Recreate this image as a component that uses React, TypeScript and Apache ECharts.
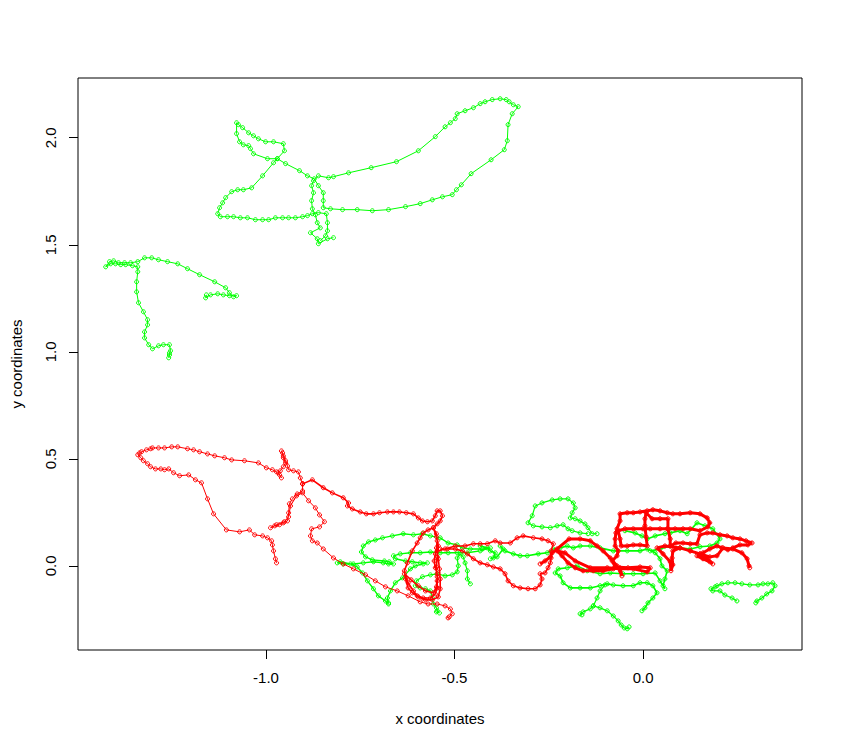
import React, { useEffect, useRef } from "react";
import * as echarts from "echarts";

const GREEN = "#00ff00";
const RED = "#ff0000";

const xTicks = [-1.0, -0.5, 0.0];
const yTicks = [0.0, 0.5, 1.0, 1.5, 2.0];
const xTitle = "x coordinates";
const yTitle = "y coordinates";

// green track, upper loop
const greenTop: number[][] = [
  [-0.821,1.533],[-0.837,1.528],[-0.861,1.505],[-0.864,1.528],[-0.882,1.556],[-0.856,1.579],[-0.864,1.603],[-0.869,1.640],[-0.877,1.668],[-0.879,1.706],[-0.874,1.743],[-0.879,1.776],[-0.874,1.799],[-0.861,1.822],[-0.834,1.813],[-0.821,1.818],[-0.781,1.836],[-0.721,1.860],[-0.654,1.888],[-0.596,1.939],[-0.551,2.005],[-0.525,2.051],[-0.511,2.070],[-0.498,2.089],[-0.493,2.112],[-0.472,2.126],[-0.450,2.140],[-0.432,2.159],[-0.419,2.168],[-0.400,2.178],[-0.379,2.182],[-0.363,2.178],[-0.355,2.168],[-0.344,2.154],[-0.331,2.145],[-0.347,2.112],[-0.358,2.061],[-0.360,1.986],[-0.368,1.944],[-0.403,1.897],[-0.456,1.832],[-0.482,1.780],[-0.495,1.757],[-0.506,1.734],[-0.532,1.724],[-0.559,1.710],[-0.591,1.692],[-0.630,1.678],[-0.675,1.664],[-0.718,1.659],[-0.758,1.664],[-0.797,1.664],[-0.829,1.668],[-0.848,1.673],[-0.848,1.706],[-0.848,1.743],[-0.861,1.776],[-0.872,1.808],[-0.890,1.822],[-0.911,1.846],[-0.948,1.879],[-0.970,1.902],[-0.996,1.902],[-1.033,1.925],[-1.041,1.949],[-1.046,1.963],[-1.060,1.967],[-1.070,1.981],[-1.078,2.019],[-1.078,2.070],[-1.073,2.061],[-1.062,2.047],[-1.046,2.023],[-1.033,2.009],[-1.020,1.995],[-1.001,1.981],[-0.980,1.981],[-0.954,1.972],[-0.951,1.939],[-0.970,1.902],[-0.980,1.883],[-1.009,1.822],[-1.038,1.766],[-1.060,1.757],[-1.075,1.757],[-1.091,1.748],[-1.107,1.720],[-1.115,1.696],[-1.123,1.673],[-1.128,1.645],[-1.121,1.631],[-1.102,1.631],[-1.086,1.631],[-1.068,1.626],[-1.049,1.626],[-1.028,1.617],[-1.009,1.617],[-0.993,1.617],[-0.975,1.626],[-0.956,1.626],[-0.940,1.626],[-0.922,1.626],[-0.903,1.631],[-0.890,1.636],[-0.877,1.645],[-0.861,1.650],[-0.840,1.645],[-0.837,1.603],[-0.837,1.565],[-0.842,1.542],[-0.856,1.519]
];

// green track, left piece
const greenLeft: number[][] = [
  [-1.258,0.972],[-1.256,0.985],[-1.256,0.995],[-1.253,1.005],[-1.256,1.033],[-1.272,1.033],[-1.285,1.028],[-1.301,1.014],[-1.311,1.033],[-1.322,1.065],[-1.322,1.093],[-1.314,1.126],[-1.314,1.150],[-1.325,1.187],[-1.338,1.229],[-1.343,1.280],[-1.343,1.327],[-1.340,1.374],[-1.340,1.397],[-1.354,1.402],[-1.372,1.407],[-1.385,1.407],[-1.399,1.411],[-1.412,1.411],[-1.425,1.397],[-1.415,1.421],[-1.404,1.425],[-1.391,1.416],[-1.375,1.416],[-1.359,1.416],[-1.340,1.421],[-1.322,1.439],[-1.303,1.439],[-1.285,1.430],[-1.261,1.421],[-1.234,1.411],[-1.208,1.388],[-1.176,1.360],[-1.136,1.327],[-1.107,1.299],[-1.097,1.276],[-1.086,1.257],[-1.078,1.262],[-1.097,1.262],[-1.113,1.266],[-1.128,1.271],[-1.147,1.266],[-1.160,1.252],[-1.158,1.266]
];

// green track, lower-left ellipse
const greenEllipse: number[][] = [
  [-0.675,-0.178],[-0.683,-0.164],[-0.702,-0.140],[-0.715,-0.107],[-0.731,-0.070],[-0.744,-0.033],[-0.758,-0.005],[-0.776,0.009],[-0.803,0.019],[-0.811,0.014],[-0.795,0.009],[-0.768,0.009],[-0.742,0.014],[-0.715,0.019],[-0.689,0.014],[-0.675,0.009],[-0.662,0.009],[-0.673,0.019],[-0.686,0.023],[-0.718,0.028],[-0.736,0.042],[-0.747,0.065],[-0.742,0.093],[-0.728,0.112],[-0.710,0.121],[-0.691,0.131],[-0.665,0.140],[-0.636,0.150],[-0.609,0.145],[-0.585,0.150],[-0.564,0.140],[-0.538,0.131],[-0.517,0.107],[-0.493,0.098],[-0.479,0.084],[-0.458,0.079],[-0.426,0.079],[-0.405,0.084],[-0.432,0.070],[-0.466,0.061],[-0.493,0.061],[-0.517,0.061],[-0.538,0.061],[-0.564,0.065],[-0.591,0.061],[-0.617,0.061],[-0.644,0.056],[-0.662,0.047],[-0.657,0.033],[-0.630,0.023],[-0.612,0.019],[-0.591,0.014],[-0.572,0.014],[-0.583,0.009],[-0.604,0.000],[-0.617,-0.014],[-0.638,-0.056],[-0.657,-0.079],[-0.670,-0.117],[-0.678,-0.150],[-0.675,-0.173]
];

// green track, spur down to the lowest point of the ellipse group
const greenSpur: number[][] = [
  [-0.458,-0.084],[-0.466,-0.061],[-0.466,-0.023],[-0.472,0.014],[-0.477,0.042],[-0.485,0.056],[-0.493,0.037],[-0.490,0.000],[-0.493,-0.028],[-0.506,-0.042],[-0.525,-0.047],[-0.546,-0.037],[-0.564,-0.042],[-0.585,-0.051],[-0.601,-0.070],[-0.604,-0.093],[-0.591,-0.103],[-0.577,-0.107],[-0.564,-0.117],[-0.559,-0.150],[-0.556,-0.178],[-0.548,-0.196],[-0.546,-0.210],[-0.540,-0.220],[-0.548,-0.215]
];

// green track, middle cluster
const greenMiddle: number[][] = [
  [-0.432,0.093],[-0.413,0.084],[-0.405,0.070],[-0.392,0.061],[-0.397,0.037],[-0.405,0.033],[-0.387,0.042],[-0.371,0.079],[-0.379,0.093],[-0.366,0.070],[-0.344,0.056],[-0.326,0.047],[-0.307,0.047],[-0.278,0.056],[-0.254,0.061],[-0.238,0.079],[-0.220,0.084],[-0.201,0.093],[-0.185,0.084],[-0.167,0.093],[-0.140,0.093],[-0.114,0.084],[-0.079,0.070],[-0.042,0.070],[-0.008,0.070],[0.011,0.079],[0.032,0.061],[0.045,0.033],[0.050,0.000],[0.064,-0.023],[0.058,-0.061],[0.053,-0.093],[0.058,-0.107],[0.045,-0.070],[0.032,-0.033],[0.000,-0.037],[-0.026,-0.037],[-0.053,-0.037],[-0.087,-0.033],[-0.114,-0.037],[-0.148,-0.023],[-0.175,0.000],[-0.201,-0.009],[-0.225,-0.014],[-0.233,-0.033],[-0.220,-0.047],[-0.212,-0.079],[-0.193,-0.103],[-0.167,-0.103],[-0.140,-0.103],[-0.114,-0.093],[-0.095,-0.084],[-0.079,-0.089],[-0.053,-0.093],[-0.026,-0.093],[-0.008,-0.079],[0.011,-0.079],[0.026,-0.093],[0.037,-0.126],[0.026,-0.150],[0.013,-0.173],[0.005,-0.196],[-0.003,-0.210]
];

const greenTailA: number[][] = [
  [-0.101,-0.089],[-0.114,-0.117],[-0.122,-0.150],[-0.132,-0.187],[-0.140,-0.201],[-0.159,-0.215],[-0.167,-0.224],[-0.162,-0.229]
];

const greenTailB: number[][] = [
  [-0.132,-0.187],[-0.114,-0.196],[-0.095,-0.210],[-0.079,-0.234],[-0.066,-0.257],[-0.058,-0.276],[-0.050,-0.290],[-0.042,-0.294],[-0.037,-0.285]
];

const greenUpperLoop: number[][] = [
  [-0.122,0.150],[-0.135,0.150],[-0.146,0.178],[-0.154,0.196],[-0.167,0.210],[-0.180,0.220],[-0.193,0.224],[-0.188,0.248],[-0.180,0.271],[-0.185,0.294],[-0.199,0.313],[-0.220,0.313],[-0.241,0.308],[-0.268,0.294],[-0.286,0.280],[-0.294,0.234],[-0.305,0.201],[-0.291,0.187],[-0.268,0.182],[-0.246,0.178],[-0.228,0.187],[-0.212,0.192],[-0.199,0.173],[-0.188,0.164],[-0.167,0.154],[-0.146,0.150]
];

const greenUnderRed: number[][] = [
  [-0.048,0.164],[-0.021,0.154],[-0.003,0.140],[0.011,0.126],[0.032,0.140],[0.058,0.150],[0.072,0.154],[0.098,0.164],[0.117,0.150],[0.143,0.201],[0.164,0.187],[0.185,0.173],[0.204,0.126],[0.196,0.107],[0.177,0.093],[0.151,0.089],[0.125,0.079],[0.098,0.084],[0.072,0.093],[0.045,0.079],[0.019,0.070]
];

const greenRight: number[][] = [
  [0.249,-0.164],[0.236,-0.150],[0.217,-0.136],[0.204,-0.117],[0.185,-0.117],[0.180,-0.107],[0.191,-0.098],[0.196,-0.093],[0.209,-0.084],[0.225,-0.079],[0.244,-0.079],[0.262,-0.084],[0.283,-0.089],[0.305,-0.089],[0.318,-0.084],[0.331,-0.084],[0.344,-0.079],[0.350,-0.093],[0.342,-0.117],[0.328,-0.131],[0.315,-0.150],[0.302,-0.164],[0.299,-0.173]
];

// red track, start and left loop
const redStart: number[][] = [
  [-0.972,0.014],[-0.975,0.033],[-0.980,0.070],[-0.983,0.098],[-0.985,0.117],[-0.996,0.131],[-1.009,0.140],[-1.030,0.145],[-1.044,0.168],[-1.070,0.159],[-1.105,0.168],[-1.139,0.243],[-1.155,0.313],[-1.171,0.388],[-1.187,0.402],[-1.205,0.425],[-1.229,0.421],[-1.245,0.435],[-1.258,0.453],[-1.269,0.449],[-1.279,0.453],[-1.293,0.453],[-1.306,0.463],[-1.314,0.477],[-1.325,0.491],[-1.332,0.505],[-1.340,0.519],[-1.335,0.528],[-1.330,0.533],[-1.317,0.542],[-1.306,0.547],[-1.301,0.551],[-1.285,0.551],[-1.269,0.551],[-1.250,0.556],[-1.234,0.556],[-1.208,0.547],[-1.192,0.542],[-1.176,0.533],[-1.155,0.523],[-1.136,0.514],[-1.110,0.505],[-1.091,0.495],[-1.057,0.491],[-1.020,0.481],[-0.999,0.458],[-0.983,0.449],[-0.972,0.439],[-0.964,0.425],[-0.959,0.411],[-0.967,0.435],[-0.962,0.444],[-0.954,0.463],[-0.948,0.481],[-0.954,0.505],[-0.956,0.528],[-0.959,0.537],[-0.954,0.514],[-0.948,0.491],[-0.943,0.467],[-0.940,0.449],[-0.927,0.444],[-0.914,0.439],[-0.909,0.411],[-0.903,0.383]
];

// red track, stub and long diagonal
const redDiagonal: number[][] = [
  [-0.903,0.383],[-0.903,0.350],[-0.917,0.336],[-0.930,0.313],[-0.938,0.290],[-0.940,0.248],[-0.943,0.210],[-0.954,0.201],[-0.964,0.192],[-0.977,0.187],[-0.988,0.178],[-0.972,0.192],[-0.951,0.206],[-0.940,0.229],[-0.935,0.280],[-0.919,0.327],[-0.903,0.341],[-0.887,0.304],[-0.869,0.271],[-0.858,0.238],[-0.845,0.206],[-0.858,0.182],[-0.879,0.173],[-0.882,0.140],[-0.877,0.117],[-0.864,0.107],[-0.848,0.079],[-0.821,0.037],[-0.795,0.009],[-0.768,-0.014],[-0.736,-0.042],[-0.710,-0.070],[-0.683,-0.098],[-0.652,-0.117],[-0.623,-0.140],[-0.591,-0.168],[-0.570,-0.178],[-0.546,-0.178],[-0.525,-0.187],[-0.511,-0.201],[-0.506,-0.224],[-0.514,-0.238],[-0.517,-0.243]
];

// red track, middle loops
const redMiddle: number[][] = [
  [-0.903,0.383],[-0.877,0.402],[-0.848,0.365],[-0.824,0.341],[-0.795,0.318],[-0.781,0.294],[-0.784,0.280],[-0.771,0.266],[-0.750,0.252],[-0.734,0.243],[-0.715,0.243],[-0.699,0.248],[-0.678,0.252],[-0.662,0.252],[-0.646,0.252],[-0.628,0.248],[-0.609,0.243],[-0.596,0.224],[-0.585,0.210],[-0.572,0.206],[-0.559,0.210],[-0.551,0.234],[-0.546,0.257],[-0.538,0.257],[-0.532,0.234],[-0.538,0.210],[-0.546,0.196],[-0.556,0.178],[-0.570,0.168],[-0.583,0.154],[-0.591,0.131],[-0.599,0.107],[-0.612,0.070],[-0.625,0.014],[-0.633,-0.023],[-0.630,-0.061],[-0.623,-0.103],[-0.612,-0.126],[-0.599,-0.140],[-0.583,-0.150],[-0.564,-0.150],[-0.551,-0.131],[-0.546,-0.103],[-0.546,-0.070],[-0.546,-0.037],[-0.551,-0.009],[-0.554,0.023],[-0.551,0.056],[-0.548,0.084],[-0.546,0.117],[-0.548,0.150],[-0.556,0.178],[-0.548,0.136],[-0.543,0.093],[-0.546,0.042],[-0.548,-0.005],[-0.546,-0.051],[-0.548,-0.098],[-0.556,-0.126],[-0.577,-0.117],[-0.596,-0.093],[-0.615,-0.065],[-0.633,-0.037],[-0.623,-0.079],[-0.609,-0.117],[-0.596,-0.145],[-0.577,-0.159],[-0.559,-0.159],[-0.543,-0.145],[-0.538,-0.107],[-0.538,-0.061],[-0.540,-0.014],[-0.543,0.033],[-0.546,0.070],[-0.525,0.079],[-0.498,0.093],[-0.472,0.093],[-0.450,0.103],[-0.432,0.103],[-0.413,0.103],[-0.392,0.117],[-0.379,0.107],[-0.352,0.107],[-0.334,0.131],[-0.318,0.140],[-0.291,0.131],[-0.268,0.126],[-0.252,0.117],[-0.238,0.103],[-0.244,0.070],[-0.244,0.037],[-0.246,0.014],[-0.252,-0.009],[-0.260,-0.033],[-0.273,-0.037],[-0.268,-0.061],[-0.273,-0.089],[-0.286,-0.107],[-0.305,-0.107],[-0.326,-0.103],[-0.344,-0.093],[-0.358,-0.070],[-0.366,-0.037],[-0.379,-0.014],[-0.397,-0.005],[-0.413,0.005],[-0.432,0.014],[-0.450,0.033],[-0.466,0.056],[-0.479,0.070],[-0.498,0.079],[-0.519,0.079],[-0.538,0.079]
];

// red track, right cluster
const redRight: number[][] = [
  [-0.273,0.009],[-0.260,0.023],[-0.246,0.042],[-0.241,0.061],[-0.228,0.079],[-0.196,0.126],[-0.167,0.126],[-0.140,0.117],[-0.122,0.093],[-0.106,0.070],[-0.087,0.037],[-0.069,0.000],[-0.056,-0.047],[-0.061,-0.009],[-0.079,-0.014],[-0.106,-0.023],[-0.132,-0.023],[-0.159,-0.023],[-0.180,-0.009],[-0.199,0.014],[-0.215,0.047],[-0.228,0.070],[-0.207,0.061],[-0.180,0.023],[-0.140,-0.009],[-0.095,-0.009],[-0.061,-0.014],[-0.026,-0.014],[0.011,-0.028],[0.019,-0.009],[-0.008,-0.005],[-0.040,-0.009],[-0.074,-0.005],[-0.082,0.023],[-0.069,0.047],[-0.066,0.070],[-0.074,0.093],[-0.074,0.126],[-0.072,0.154],[-0.069,0.173],[-0.061,0.210],[-0.061,0.243],[-0.042,0.248],[-0.026,0.248],[-0.008,0.252],[0.011,0.257],[0.026,0.262],[0.045,0.257],[0.064,0.248],[0.079,0.243],[0.098,0.243],[0.125,0.248],[0.151,0.243],[0.170,0.224],[0.177,0.201],[0.172,0.182],[0.151,0.164],[0.125,0.173],[0.106,0.173],[0.085,0.173],[0.064,0.173],[0.045,0.173],[0.019,0.173],[0.000,0.173],[-0.026,0.173],[-0.048,0.173],[-0.066,0.164],[-0.061,0.126],[-0.058,0.093],[-0.042,0.093],[-0.026,0.098],[-0.008,0.098],[0.011,0.093],[0.008,0.136],[0.005,0.187],[0.005,0.220],[0.008,0.248],[0.024,0.220],[0.045,0.220],[0.066,0.220],[0.066,0.173],[0.072,0.126],[0.072,0.093],[0.087,0.107],[0.106,0.107],[0.125,0.103],[0.143,0.103],[0.151,0.145],[0.170,0.154],[0.185,0.154],[0.204,0.145],[0.223,0.140],[0.238,0.131],[0.257,0.126],[0.273,0.117],[0.289,0.107],[0.278,0.098],[0.257,0.098],[0.238,0.084],[0.225,0.075],[0.209,0.084],[0.196,0.093],[0.177,0.079],[0.159,0.061],[0.143,0.047],[0.159,0.033],[0.177,0.019],[0.185,0.009],[0.170,0.033],[0.151,0.056],[0.125,0.070],[0.098,0.084],[0.079,0.070],[0.077,0.037],[0.079,0.005],[0.074,-0.023],[0.072,0.019],[0.053,0.056],[0.037,0.084],[0.058,0.093],[0.098,0.084],[0.125,0.070],[0.151,0.056],[0.177,0.042],[0.196,0.047],[0.212,0.084],[0.238,0.079],[0.262,0.061],[0.276,0.033],[0.281,0.000],[0.283,-0.009]
];

const greenTracks = [greenTop, greenLeft, greenEllipse, greenSpur, greenMiddle, greenTailA, greenTailB, greenUpperLoop, greenUnderRed, greenRight];
const redTracks = [redStart, redDiagonal, redMiddle, redRight];
// drawn line weight per track (dense parts of the reference look heavier)
const greenWeights = [1, 1, 1.4, 1.2, 1.6, 1.2, 1.2, 1.2, 1.6, 1.3];
const redWeights = [1, 1, 1.6, 3];

const FONT = "'Liberation Sans', Arial, sans-serif";

function track(data: number[][], color: string, width: number, z: number) {
  return {
    type: "line",
    data,
    z,
    symbol: "circle",
    symbolSize: 4,
    showSymbol: true,
    showAllSymbol: true,
    clip: false,
    silent: true,
    emphasis: { disabled: true },
    lineStyle: { color, width },
    itemStyle: { color: "rgba(0,0,0,0)", borderColor: color, borderWidth: 1 },
  };
}

export default function App() {
  const ref = useRef<HTMLDivElement>(null);
  useEffect(() => {
    if (!ref.current) return;
    const chart = echarts.init(ref.current, undefined, { renderer: "svg" });
    const series: any[] = [];
    greenTracks.forEach((t, i) => series.push(track(t, GREEN, greenWeights[i], 2)));
    redTracks.forEach((t, i) => series.push(track(t, RED, redWeights[i], 3)));
    chart.setOption({
      animation: false,
      backgroundColor: "#ffffff",
      grid: { left: 78, top: 78, width: 724, height: 572, show: true, borderColor: "#000", borderWidth: 1, backgroundColor: "transparent" },
      xAxis: {
        type: "value",
        min: -1.4985,
        max: 0.4215,
        axisLine: { show: false, onZero: false },
        splitLine: { show: false },
        axisTick: { show: true, length: 9, customValues: xTicks, lineStyle: { color: "#000", width: 1 } },
        axisLabel: { customValues: xTicks, formatter: (v: number) => v.toFixed(1), color: "#000", fontSize: 15, fontFamily: FONT, margin: 20 },
      },
      yAxis: {
        type: "value",
        min: -0.393,
        max: 2.279,
        axisLine: { show: false, onZero: false },
        splitLine: { show: false },
        axisTick: { show: true, length: 9, customValues: yTicks, lineStyle: { color: "#000", width: 1 } },
        axisLabel: { customValues: yTicks, formatter: (v: number) => v.toFixed(1), color: "#000", fontSize: 15, fontFamily: FONT, margin: 20, rotate: 90 },
      },
      graphic: [
        { type: "text", x: 440, y: 718, style: { text: xTitle, fill: "#000", font: `15px ${FONT}`, textAlign: "center", textVerticalAlign: "middle" } },
        { type: "text", x: 16, y: 364, rotation: Math.PI / 2, style: { text: yTitle, fill: "#000", font: `15px ${FONT}`, textAlign: "center", textVerticalAlign: "middle" } },
      ],
      series,
    });
    return () => chart.dispose();
  }, []);
  return <div ref={ref} style={{ position: "fixed", left: 0, top: 0, width: 843, height: 748, background: "#fff" }} />;
}
